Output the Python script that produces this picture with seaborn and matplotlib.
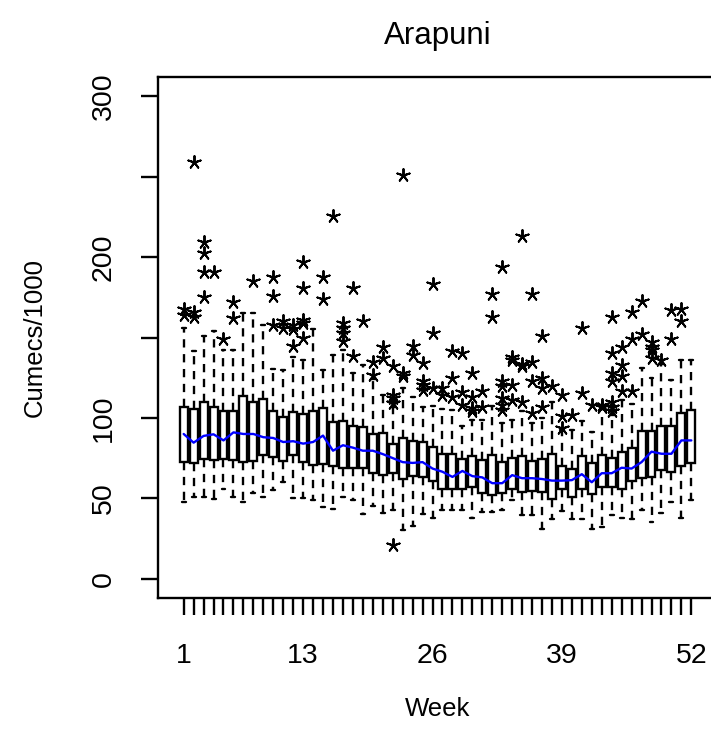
import matplotlib
matplotlib.use('Agg')
import matplotlib.pyplot as plt
import seaborn as sns

# Weekly flow statistics for Arapuni (Cumecs/1000)
weeks = list(range(1, 53))
q1 = [72.7, 72.0, 74.4, 73.8, 74.4, 73.8, 72.7, 73.3, 77.0, 75.5,
      73.0, 77.0, 72.5, 70.6, 71.5, 70.0, 68.6, 68.6, 68.6, 65.6,
      64.4, 66.0, 62.0, 63.8, 63.0, 60.7, 55.6, 55.6, 56.0, 56.9,
      53.5, 52.0, 53.5, 55.5, 54.0, 54.5, 54.0, 49.7, 55.6, 51.0,
      55.6, 52.8, 57.0, 57.0, 55.6, 61.0, 62.6, 63.5, 67.5, 66.5,
      70.0, 71.8]
q3 = [107.0, 105.6, 110.0, 107.0, 104.0, 104.0, 113.8, 110.0, 112.0, 104.0,
      100.6, 103.8, 102.5, 104.6, 106.0, 97.7, 98.0, 95.0, 94.6, 90.0,
      90.6, 83.8, 87.5, 85.8, 85.0, 82.0, 77.5, 77.5, 74.7, 76.0,
      74.0, 77.0, 72.6, 75.0, 76.0, 73.0, 74.4, 77.3, 70.3, 68.2,
      76.0, 71.9, 77.0, 75.0, 78.5, 81.0, 92.0, 92.0, 94.8, 95.1,
      103.2, 105.0]
med = [90.0, 84.6, 88.8, 89.8, 86.0, 91.0, 90.0, 90.0, 88.0, 87.5,
       85.0, 85.5, 84.0, 85.0, 89.0, 79.6, 83.0, 81.5, 79.6, 79.6,
       77.5, 75.0, 72.5, 72.0, 72.5, 68.5, 66.5, 63.3, 67.0, 63.8,
       63.0, 59.4, 59.4, 64.4, 62.5, 62.5, 62.0, 61.0, 61.0, 61.3,
       65.0, 60.0, 65.6, 65.6, 69.0, 68.5, 72.5, 79.0, 77.7, 77.7,
       86.0, 86.0]
whislo = [48.0, 51.0, 51.0, 49.5, 55.5, 51.0, 48.0, 53.0, 51.0, 55.0,
          60.0, 50.0, 50.0, 48.8, 44.6, 43.5, 50.7, 48.8, 40.0, 45.0,
          41.0, 42.5, 30.0, 32.5, 40.0, 38.0, 42.5, 42.5, 43.0, 37.5,
          41.5, 41.5, 42.5, 48.8, 39.4, 39.4, 31.0, 36.9, 42.0, 36.9,
          36.9, 30.6, 31.9, 39.4, 37.5, 36.9, 42.5, 35.0, 40.6, 47.7,
          38.0, 48.8]
whishi = [156.0, 141.5, 151.0, 154.0, 142.0, 142.0, 165.4, 165.4, 158.0, 130.5,
          130.0, 138.0, 136.0, 155.5, 130.0, 139.0, 142.0, 128.0, 133.0, 124.0,
          114.0, 107.0, 118.8, 113.0, 107.0, 107.7, 105.6, 105.0, 95.0, 98.8,
          99.0, 107.7, 97.0, 99.0, 104.0, 97.0, 100.0, 110.0, 92.5, 92.5,
          98.0, 91.5, 106.0, 102.0, 111.0, 108.5, 131.0, 125.0, 133.5, 123.5,
          136.0, 136.0]
fliers = [
    [168, 164], [259, 165.6, 162.5], [209.6, 202.5, 190.6, 175], [190.6],
    [148.8], [172, 162], [], [185], [], [187.5, 175.6, 158],
    [160, 156], [158, 155, 145], [197, 180.6, 161, 159, 150], [],
    [187.5, 173.8], [225.6], [159, 156, 153, 147.7], [181, 138.6],
    [160], [135, 126.5], [143.8, 137], [132.5, 114, 112.5, 109, 21],
    [251, 128, 126], [144.6, 139], [134, 122.7, 120.6, 117.5],
    [183, 152.5, 118.8], [118.8, 114], [141.5, 125, 113],
    [140.6, 116, 108], [128, 113, 106, 104], [116.5, 107], [177, 163],
    [194, 122.7, 119.6, 112.5, 108, 105], [138, 136, 120.6, 111],
    [213, 133.8, 132, 110], [177, 134.6, 122.7, 103],
    [151, 125, 118.8, 107], [119.6], [114, 101, 94], [102],
    [156, 115.6], [108], [108, 107],
    [162.5, 140.6, 128, 122.7, 110, 107, 104], [143.8, 133, 126, 116.5],
    [166, 149, 117], [172.5, 152], [147.5, 143.8, 142, 137.5], [136],
    [167, 148.8], [168, 160], [],
]
label_weeks = [1, 13, 26, 39, 52]
y_ticks = [0, 50, 100, 150, 200, 250, 300]
y_tick_labels = ['0', '50', '100', '', '200', '', '300']

sns.set_style('white')
plt.rcParams['font.family'] = ['Liberation Sans', 'DejaVu Sans']
plt.rcParams['text.color'] = 'black'
plt.rcParams['axes.labelcolor'] = 'black'

W, H = 711, 752
fig = plt.figure(figsize=(W / 100, H / 100), dpi=100)
ax = fig.add_axes([158 / W, 1 - 598 / H, (717 - 158) / W, (598 - 77) / H])

#%% boxes
stats = [dict(med=m, q1=a, q3=b, whislo=lo, whishi=hi, fliers=[])
         for m, a, b, lo, hi in zip(med, q1, q3, whislo, whishi)]
lw = 1.7
ax.bxp(stats, positions=weeks, widths=0.8, capwidths=0.4,
       patch_artist=True, showfliers=False, manage_ticks=False,
       boxprops=dict(facecolor='white', edgecolor='black', linewidth=lw),
       whiskerprops=dict(color='black', linewidth=lw, linestyle=(0, (3.5, 2.8))),
       capprops=dict(color='black', linewidth=lw),
       medianprops=dict(linestyle='none'))

# outliers as asterisks
out_x = [w for w, f in zip(weeks, fliers) for _ in f]
out_y = [v for f in fliers for v in f]
sns.scatterplot(x=out_x, y=out_y, marker=(5, 2, 0), s=85, color='black',
                edgecolor='black', linewidth=1.4, ax=ax, zorder=4, legend=False)

# median line
sns.lineplot(x=weeks, y=med, color='#0000FF', linewidth=1.7, ax=ax, zorder=5)

#%% axes
ax.set_xlim(-1.58, 54.58)
ax.set_ylim(-12, 312)
ax.set_xticks(weeks)
ax.set_xticklabels([str(w) if w in label_weeks else '' for w in weeks])
ax.set_yticks(y_ticks)
ax.set_yticklabels(y_tick_labels)
ax.tick_params(axis='both', direction='out', length=12.5, width=lw,
               color='black', labelsize=20.5, labelcolor='black',
               bottom=True, left=True)
ax.tick_params(axis='x', pad=20)
ax.tick_params(axis='y', pad=17)
for lab in ax.get_yticklabels():
    lab.set_rotation(90)
    lab.set_va('center')
for sp in ax.spines.values():
    sp.set_color('black')
    sp.set_linewidth(lw)

ax.set_title('Arapuni', fontsize=22.5, pad=24, color='black')
ax.set_xlabel('Week', fontsize=18.5, color='black')
ax.xaxis.set_label_coords(0.5, (598 - 697) / 521)
ax.set_ylabel('Cumecs/1000', fontsize=18.5, color='black')
ax.yaxis.set_label_coords((47 - 158) / 559, 0.5)

fig.savefig('out.png', dpi=100)
